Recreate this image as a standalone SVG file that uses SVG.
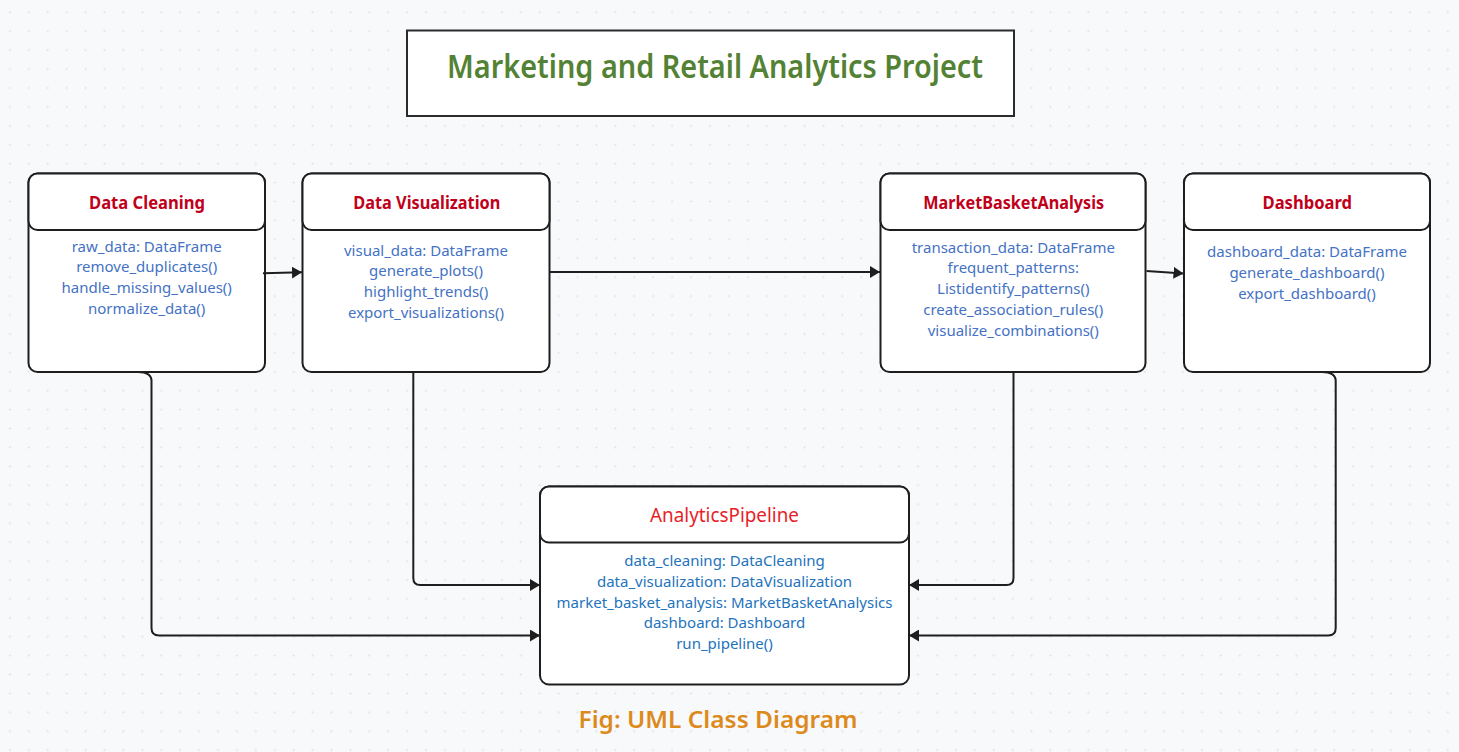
<svg xmlns="http://www.w3.org/2000/svg" width="1459" height="752" viewBox="0 0 1459 752">
<defs>
<pattern id="dots" patternUnits="userSpaceOnUse" x="0.44" y="2.84" width="18.92" height="18.92">
<circle cx="9.46" cy="9.46" r="1.1" fill="#dfe1e6"/>
</pattern>
<marker id="arr" viewBox="0 0 10 12" refX="10" refY="6" markerWidth="10" markerHeight="12" markerUnits="userSpaceOnUse" orient="auto">
<path d="M0,0 L10,6 L0,12 z" fill="#1e1e1e"/>
</marker>
</defs>
<style>
.box{fill:#ffffff;stroke:#1e1e1e;stroke-width:2}
.cname{font-family:"Noto Sans","Open Sans","Liberation Sans",sans-serif;font-size:18px;font-weight:bold;fill:#c0001a}
.body{font-family:"Noto Sans","Open Sans","Liberation Sans",sans-serif;font-size:15px;fill:#4472c4;text-anchor:middle}
.body2{font-family:"Noto Sans","Open Sans","Liberation Sans",sans-serif;font-size:15px;fill:#2373bd;text-anchor:middle}
.conn{fill:none;stroke:#1e1e1e;stroke-width:2}
</style>
<rect width="1459" height="752" fill="#f8f9fb"/>
<rect width="1459" height="752" fill="url(#dots)"/>

<g id="title">
<rect x="407" y="30.5" width="607" height="85.5" fill="#ffffff" stroke="#2b2b2b" stroke-width="2"/>
<text x="447" y="77.5" font-family="'Noto Sans','Open Sans','Liberation Sans',sans-serif" font-size="32" font-weight="600" fill="#548235" textLength="536" lengthAdjust="spacingAndGlyphs">Marketing and Retail Analytics Project</text>
</g>

<g id="data-cleaning">
<rect class="box" x="28.5" y="173.5" width="236.5" height="198.5" rx="9"/>
<rect class="box" x="28.5" y="173.5" width="236.5" height="56.5" rx="9"/>
<text class="cname" x="89" y="209.3" textLength="116" lengthAdjust="spacingAndGlyphs">Data Cleaning</text>
<text class="body" x="146.7" y="251.5">raw_data: DataFrame</text>
<text class="body" x="146.7" y="272.3">remove_duplicates()</text>
<text class="body" x="146.7" y="293.1">handle_missing_values()</text>
<text class="body" x="146.7" y="313.9">normalize_data()</text>
</g>

<g id="data-visualization">
<rect class="box" x="302.5" y="173.5" width="247" height="198.5" rx="9"/>
<rect class="box" x="302.5" y="173.5" width="247" height="56.5" rx="9"/>
<text class="cname" x="353.3" y="209.3" textLength="147" lengthAdjust="spacingAndGlyphs">Data Visualization</text>
<text class="body" x="426" y="255.5">visual_data: DataFrame</text>
<text class="body" x="426" y="276.3">generate_plots()</text>
<text class="body" x="426" y="297.1">highlight_trends()</text>
<text class="body" x="426" y="317.9">export_visualizations()</text>
</g>

<g id="market-basket-analysis">
<rect class="box" x="880.5" y="173.5" width="265" height="198.5" rx="9"/>
<rect class="box" x="880.5" y="173.5" width="265" height="56.5" rx="9"/>
<text class="cname" x="923.2" y="209.3" textLength="181" lengthAdjust="spacingAndGlyphs">MarketBasketAnalysis</text>
<text class="body" x="1013.3" y="252.5">transaction_data: DataFrame</text>
<text class="body" x="1013.3" y="273.3">frequent_patterns:</text>
<text class="body" x="1013.3" y="294.1">Listidentify_patterns()</text>
<text class="body" x="1013.3" y="314.9">create_association_rules()</text>
<text class="body" x="1013.3" y="335.7">visualize_combinations()</text>
</g>

<g id="dashboard">
<rect class="box" x="1184" y="173.5" width="246" height="198.5" rx="9"/>
<rect class="box" x="1184" y="173.5" width="246" height="56.5" rx="9"/>
<text class="cname" x="1262.5" y="209.3" textLength="89.5" lengthAdjust="spacingAndGlyphs">Dashboard</text>
<text class="body" x="1307" y="257">dashboard_data: DataFrame</text>
<text class="body" x="1307" y="277.8">generate_dashboard()</text>
<text class="body" x="1307" y="298.6">export_dashboard()</text>
</g>

<g id="analytics-pipeline">
<rect class="box" x="540" y="486.5" width="369" height="198" rx="9"/>
<rect class="box" x="540" y="486.5" width="369" height="56" rx="9"/>
<text x="650" y="522.3" font-family="'Noto Sans','Open Sans','Liberation Sans',sans-serif" font-size="20" fill="#e81e2a" textLength="149" lengthAdjust="spacingAndGlyphs">AnalyticsPipeline</text>
<text class="body2" x="724.5" y="566">data_cleaning: DataCleaning</text>
<text class="body2" x="724.5" y="586.8">data_visualization: DataVisualization</text>
<text class="body2" x="724.5" y="607.6">market_basket_analysis: MarketBasketAnalysics</text>
<text class="body2" x="724.5" y="628.4">dashboard: Dashboard</text>
<text class="body2" x="724.5" y="649.2">run_pipeline()</text>
</g>

<g id="connectors">
<path class="conn" d="M263,273.3 L302,272.3" marker-end="url(#arr)"/>
<path class="conn" d="M549.5,272 L880,272" marker-end="url(#arr)"/>
<path class="conn" d="M1146.5,271 L1183.5,273.5" marker-end="url(#arr)"/>
<path class="conn" d="M138,372 Q151.5,372 151.5,381 L151.5,628 Q151.5,635.5 159,635.5 L540,635.5" marker-end="url(#arr)"/>
<path class="conn" d="M413.3,372 L413.3,578 Q413.3,585 420.3,585 L540,585" marker-end="url(#arr)"/>
<path class="conn" d="M1013.5,372 L1013.5,578 Q1013.5,585 1006.5,585 L909,585" marker-end="url(#arr)"/>
<path class="conn" d="M1322,372 Q1335.7,372 1335.7,381 L1335.7,628 Q1335.7,635.5 1328.2,635.5 L909,635.5" marker-end="url(#arr)"/>
</g>

<g id="caption">
<text x="578.5" y="728.3" font-family="'Noto Sans','Open Sans','Liberation Sans',sans-serif" font-size="24" font-weight="600" fill="#dd8a1d" textLength="279" lengthAdjust="spacingAndGlyphs">Fig: UML Class Diagram</text>
</g>
</svg>
